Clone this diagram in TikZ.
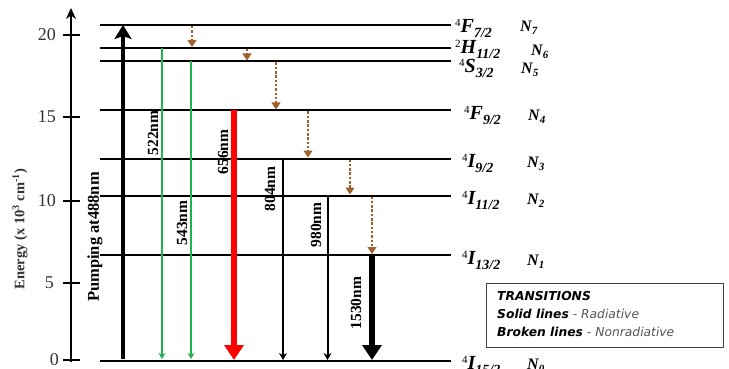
\documentclass[tikz,border=0pt]{standalone}
\usepackage{fontspec}
\setmainfont{Liberation Serif}
\newfontfamily\legendfont{DejaVu Sans}
\usetikzlibrary{arrows.meta}
\definecolor{grn}{HTML}{22B14C}
\definecolor{brn}{HTML}{A0602C}
\definecolor{ticktxt}{HTML}{333333}
\definecolor{legtxt}{HTML}{555555}
\newcommand\lvl[3]{\raisebox{6.5pt}{\fontsize{11}{11}\selectfont #1}{\bfseries\itshape #2\raisebox{-4.5pt}{\fontsize{14}{14}\selectfont #3}}}
\newcommand\nlab[1]{{\bfseries\itshape N\raisebox{-3pt}{\fontsize{11}{11}\selectfont #1}}}
\begin{document}
\begin{tikzpicture}[x=1pt,y=-1pt,
  level/.style={line width=2pt,black},
  ticklab/.style={anchor=east,text=ticktxt,font=\fontsize{18}{18}\selectfont,inner sep=0pt},
  lvlab/.style={anchor=west,inner sep=0pt,font=\fontsize{20}{20}\selectfont},
  nlabst/.style={anchor=west,inner sep=0pt,font=\fontsize{16}{16}\selectfont},
  wl/.style={rotate=90,inner sep=0pt,font=\bfseries\fontsize{15.5}{15.5}\selectfont},
  greenarr/.style={grn,line width=1.6pt,-{Stealth[width=7pt,length=6pt]}},
  thinarr/.style={black,line width=2pt,-{Stealth[width=8pt,length=7pt]}},
  bigarr/.style={line width=6.5pt,-{Triangle[width=19pt,length=15pt]}},
  nonrad/.style={brn,line width=1.2pt,dash pattern=on 2.5pt off 1.8pt,-{Triangle[width=9pt,length=7pt]}},
  ticks/.style={line width=2pt},
  legt/.style={anchor=west,inner sep=0pt,font=\legendfont\fontsize{12.3}{12.3}\selectfont}
]
\useasboundingbox (0,0) rectangle (729,369);
\fill[white] (0,0) rectangle (729,369);

% axis
\coordinate (axb) at (71,362);
\coordinate (axt) at (71,8);
\draw[line width=2.5pt,-{Stealth[width=10pt,length=11pt]}] (axb) -- (axt);
\foreach \yy/\lab in {35/20,117/15,200.5/10,282.5/5,360/0}{
  \coordinate (tl\lab) at (63,\yy);
  \coordinate (tr\lab) at (80,\yy);
  \draw[ticks] (tl\lab) -- (tr\lab);
}
\node[ticklab] (l20) at (56,35) {20};
\node[ticklab] (l15) at (56,117) {15};
\node[ticklab] (l10) at (56,200.5) {10};
\node[ticklab] (l5) at (54,282.5) {5};
\node[ticklab] (l0) at (59,360) {0};
\node[rotate=90,inner sep=0pt,font=\bfseries\fontsize{14.5}{14.5}\selectfont,text=ticktxt] (elab) at (20,229) {Energy (x 10\textsuperscript{3} cm\textsuperscript{-1})};

% levels
\foreach \n/\yy in {7/25,6/48,5/61.5,4/110.5,3/158.5,2/195.5,1/255,0/361}{
  \coordinate (L\n l) at (100,\yy);
  \coordinate (L\n r) at (451,\yy);
  \draw[level] (L\n l) -- (L\n r);
}

% level labels
\node[lvlab] (t7) at (455,28) {\lvl{4}{F}{7/2}};
\node[nlabst] (n7) at (520,28) {\nlab{7}};
\node[lvlab] (t6) at (455,49) {\lvl{2}{H}{11/2}};
\node[nlabst] (n6) at (531,52) {\nlab{6}};
\node[lvlab] (t5) at (459,68) {\lvl{4}{S}{3/2}};
\node[nlabst] (n5) at (521,70) {\nlab{5}};
\node[lvlab] (t4) at (464,115) {\lvl{4}{F}{9/2}};
\node[nlabst] (n4) at (528,117) {\nlab{4}};
\node[lvlab] (t3) at (462,163) {\lvl{4}{I}{9/2}};
\node[nlabst] (n3) at (527,164) {\nlab{3}};
\node[lvlab] (t2) at (462,200) {\lvl{4}{I}{11/2}};
\node[nlabst] (n2) at (527,201) {\nlab{2}};
\node[lvlab] (t1) at (462,260) {\lvl{4}{I}{13/2}};
\node[nlabst] (n1) at (527,262) {\nlab{1}};
\node[lvlab] (t0) at (462,365) {\lvl{4}{I}{15/2}};
\node[nlabst] (n0) at (527,366) {\nlab{0}};

% pump
\coordinate (pb) at (123,359);
\coordinate (pt) at (123,25);
\draw[line width=4.5pt,-{Stealth[width=17pt,length=14pt,inset=3pt]}] (pb) -- (pt);
\node[rotate=90,inner sep=0pt,font=\bfseries\fontsize{16.5}{16.5}\selectfont] (pumplab) at (95,237) {Pumping at488nm};

% radiative
\coordinate (g1t) at (162,48); \coordinate (g1b) at (162,359);
\draw[greenarr] (g1t) -- (g1b);
\node[wl] (w522) at (153,133) {522nm};
\coordinate (g2t) at (191,61.5); \coordinate (g2b) at (191,359);
\draw[greenarr] (g2t) -- (g2b);
\node[wl] (w543) at (182,223) {543nm};
\coordinate (rt) at (234,110.5); \coordinate (rb) at (234,360);
\draw[bigarr,red] (rt) -- (rb);
\node[wl] (w656) at (223,152) {656nm};
\coordinate (a804t) at (283,158.5); \coordinate (a804b) at (283,360);
\draw[thinarr] (a804t) -- (a804b);
\node[wl] (w804) at (270,189) {804nm};
\coordinate (a980t) at (327.5,195.5); \coordinate (a980b) at (327.5,360);
\draw[thinarr] (a980t) -- (a980b);
\node[wl] (w980) at (316,225) {980nm};
\coordinate (a1530t) at (372,255); \coordinate (a1530b) at (372,360);
\draw[bigarr,black] (a1530t) -- (a1530b);
\node[wl] (w1530) at (356,303) {1530nm};

% nonradiative
\coordinate (d1t) at (192,26); \coordinate (d1b) at (192,47);
\draw[nonrad] (d1t) -- (d1b);
\coordinate (d2t) at (247,49); \coordinate (d2b) at (247,60.5);
\draw[nonrad] (d2t) -- (d2b);
\coordinate (d3t) at (276,62.5); \coordinate (d3b) at (276,109.5);
\draw[nonrad] (d3t) -- (d3b);
\coordinate (d4t) at (308,111.5); \coordinate (d4b) at (308,157.5);
\draw[nonrad] (d4t) -- (d4b);
\coordinate (d5t) at (350,159.5); \coordinate (d5b) at (350,194.5);
\draw[nonrad] (d5t) -- (d5b);
\coordinate (d6t) at (372,196.5); \coordinate (d6b) at (372,254);
\draw[nonrad] (d6t) -- (d6b);

% legend
\node[draw=black!75,line width=0.8pt,minimum width=237pt,minimum height=64pt,anchor=north west] (legbox) at (486,283) {};
\node[legt] (leg1) at (497,296) {\bfseries\itshape TRANSITIONS};
\node[legt] (leg2) at (497,313.5) {{\bfseries\itshape Solid lines}\textcolor{legtxt}{\itshape\ - Radiative}};
\node[legt] (leg3) at (497,331.5) {{\bfseries\itshape Broken lines}\textcolor{legtxt}{\itshape\ - Nonradiative}};
\end{tikzpicture}
\end{document}
